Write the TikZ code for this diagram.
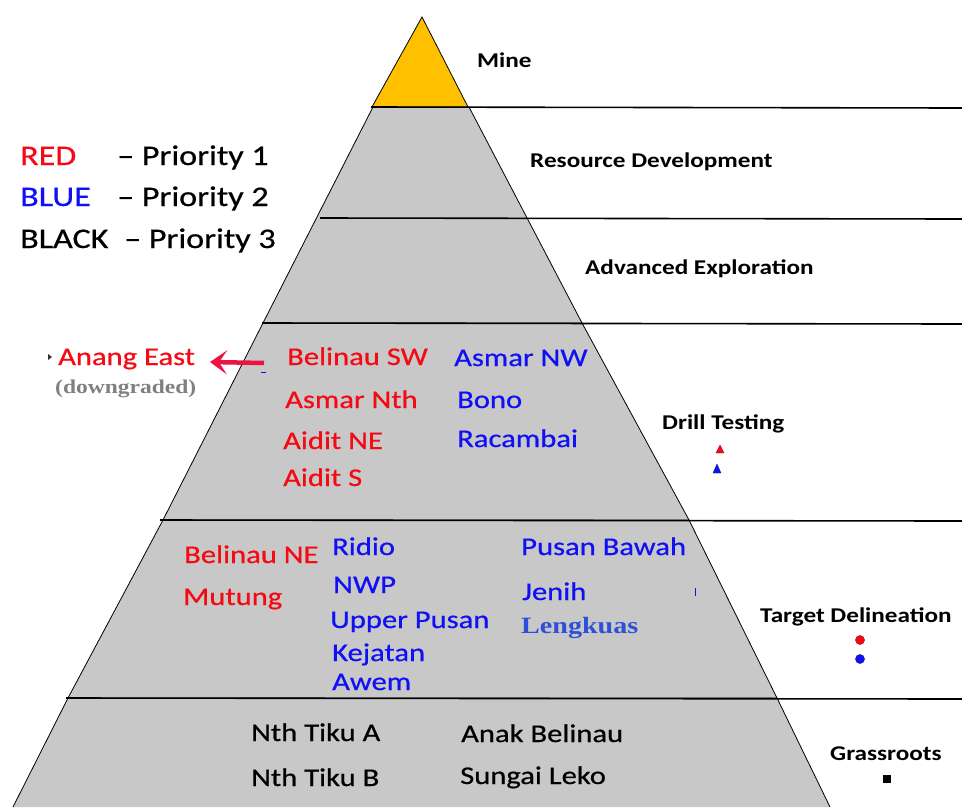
\documentclass[tikz,border=0pt]{standalone}
\usepackage{fontspec}
\usetikzlibrary{arrows.meta}
\newfontfamily\calf[FakeStretch=1.2]{Carlito}
\newfontfamily\calh[FakeStretch=1.2,FakeBold=0.6]{Carlito}
\newfontfamily\tmsf[FakeStretch=1.2]{Liberation Serif}
\definecolor{pgray}{RGB}{200,200,200}
\definecolor{porange}{RGB}{255,192,0}
\definecolor{pred}{RGB}{245,10,20}
\definecolor{pblue}{RGB}{16,16,245}
\definecolor{lblue}{RGB}{45,80,215}
\definecolor{arrred}{RGB}{235,20,65}
\definecolor{dgray}{RGB}{128,128,128}
\tikzset{
  itm/.style={anchor=base west, inner sep=0pt, font=\calh\fontsize{25.5}{30}\selectfont},
  lab/.style={anchor=base west, inner sep=0pt, font=\calf\bfseries\fontsize{21}{25}\selectfont},
  leg/.style={anchor=base west, inner sep=0pt, font=\calh\fontsize{28.4}{34}\selectfont},
  band/.style={fill=pgray, draw=black, line width=0.8pt},
  sepline/.style={draw=black, line width=1.6pt},
  redt/.style={text=pred},
  bluet/.style={text=pblue},
}
\begin{document}
\begin{tikzpicture}[x=1pt,y=-1pt]
\useasboundingbox (0,0) rectangle (962,807);
% bands
\draw[band] (13,807) -- (68,698) -- (777,698) -- (830,807);
\draw[band] (68,698) -- (163,520) -- (689,520) -- (777,698) -- cycle;
\draw[band] (163,520) -- (263,323) -- (582,323) -- (689,520) -- cycle;
\draw[band] (263,323) -- (373,107) -- (469,107) -- (582,323) -- cycle;
\draw[fill=porange, draw=black, line width=0.8pt] (372,107) -- (422,17) -- (468,107) -- cycle;
% separator lines
\draw[sepline] (371,107) -- (962,108);
\draw[sepline] (320,218) -- (962,219);
\draw[sepline] (262,323) -- (962,324);
\draw[sepline] (160,520) -- (962,521);
\draw[sepline] (66,698) -- (962,699);
% level labels
\node[lab] (mine) at (477,67) {Mine};
\node[lab] (resdev) at (530,167) {Resource Development};
\node[lab] (advexp) at (585,274) {Advanced Exploration};
\node[lab] (drill) at (662,429) {Drill Testing};
\node[lab] (target) at (760,622) {Target Delineation};
\node[lab] (grass) at (830,760) {Grassroots};
% markers
\fill[pred, draw=pred!60!black, line width=0.3pt] (716,453) -- (720,445) -- (724,453) -- cycle;
\fill[pblue, draw=pblue!60!black, line width=0.3pt] (713,473) -- (717,464) -- (721,473) -- cycle;
\fill[pred, draw=pred!60!black, line width=0.3pt] (860,640) circle (4.6);
\fill[pblue, draw=pblue!60!black, line width=0.3pt] (860,659) circle (4.6);
\fill[black] (883,775) rectangle (891,783);
% legend
\node[leg, text=pred] (lred) at (20,165) {RED};
\node[leg] (lp1) at (117,165) {– Priority 1};
\node[leg, text=pblue] (lblue) at (20,206) {BLUE};
\node[leg] (lp2) at (117,206) {– Priority 2};
\node[leg] (lblack) at (20,248) {BLACK};
\node[leg] (lp3) at (124,248) {– Priority 3};
% downgraded
\fill[black!80] (48,354) -- (52,357) -- (48,360) -- cycle;
\node[itm, redt] (anang) at (58,365) {Anang East};
\node[anchor=base west, inner sep=0pt, text=dgray, font=\tmsf\bfseries\fontsize{19.6}{24}\selectfont] (down) at (55,393) {(downgraded)};
\coordinate (arrtail) at (264,363);
\coordinate (arrtip) at (210,362);
\draw[arrred, line width=4.5pt, -{Stealth[length=17pt,width=24pt,inset=8pt]}] (arrtail) -- (arrtip);
\coordinate (bt1) at (261,372);
\coordinate (bt2) at (266,372);
\draw[pblue, line width=1pt] (bt1) -- (bt2);
% drill testing items
\node[itm, redt] (bsw) at (287,365) {Belinau SW};
\node[itm, redt] (anth) at (285,408) {Asmar Nth};
\node[itm, redt] (ane) at (283,449) {Aidit NE};
\node[itm, redt] (as) at (283,486) {Aidit S};
\node[itm, bluet] (anw) at (454,366) {Asmar NW};
\node[itm, bluet] (bono) at (457,408) {Bono};
\node[itm, bluet] (raca) at (457,447) {Racambai};
% target delineation items
\node[itm, redt] (bne) at (184,563) {Belinau NE};
\node[itm, redt] (mut) at (183,605) {Mutung};
\node[itm, bluet] (ridio) at (332,555) {Ridio};
\node[itm, bluet] (nwp) at (333,593) {NWP};
\node[itm, bluet] (upp) at (330,628) {Upper Pusan};
\node[itm, bluet] (kej) at (332,661) {Kejatan};
\node[itm, bluet] (awem) at (332,690) {Awem};
\node[itm, bluet] (pb) at (521,555) {Pusan Bawah};
\node[itm, bluet] (jen) at (522,600) {Jenih};
\node[anchor=base west, inner sep=0pt, text=lblue, font=\tmsf\bfseries\fontsize{23.4}{28}\selectfont] (leng) at (521,633) {Lengkuas};
\coordinate (vt1) at (695,588);
\coordinate (vt2) at (695,596);
\draw[pblue, line width=0.8pt] (vt1) -- (vt2);
% grassroots items
\node[itm] (tka) at (251,741) {Nth Tiku A};
\node[itm] (tkb) at (251,786) {Nth Tiku B};
\node[itm] (anak) at (461,742) {Anak Belinau};
\node[itm] (sung) at (460,784) {Sungai Leko};
\end{tikzpicture}
\end{document}
